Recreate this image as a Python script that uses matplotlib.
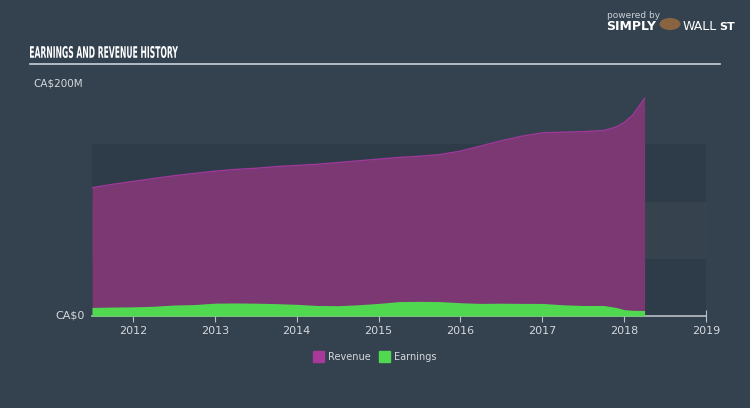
import numpy as np
import matplotlib
matplotlib.use("Agg")
import matplotlib.pyplot as plt
from matplotlib.textpath import TextPath
from matplotlib.font_manager import FontProperties
from matplotlib.patches import PathPatch, Rectangle, Circle
from matplotlib.transforms import Affine2D

# values in CA$ millions
dates = [2011.5, 2011.75, 2012.0, 2012.25, 2012.5, 2012.75, 2013.0, 2013.25, 2013.5,
         2013.75, 2014.0, 2014.25, 2014.5, 2014.75, 2015.0, 2015.25, 2015.5, 2015.75,
         2016.0, 2016.25, 2016.5, 2016.75, 2017.0, 2017.25, 2017.5, 2017.75, 2017.9,
         2018.0, 2018.1, 2018.25]
revenue = [112, 115, 117.5, 120, 122.5, 124.5, 126.5, 128, 129, 130.5, 131.5, 132.5,
           134, 135.5, 137, 138.5, 139.5, 141, 144, 148.5, 153, 157, 160, 160.5, 161,
           162, 165, 169, 175, 190]
earnings = [7.5, 7.8, 8.0, 8.5, 9.6, 10.0, 11.2, 11.4, 11.2, 10.8, 10.2, 9.2, 9.0,
            9.8, 11.0, 12.6, 12.8, 12.6, 11.6, 11.0, 11.2, 11.0, 11.0, 9.8, 9.2, 9.2,
            7.5, 5.6, 5.0, 4.8]

years = [2012, 2013, 2014, 2015, 2016, 2017, 2018, 2019]
ytick_vals = [0, 200]
ytick_labels = ["CA$0", "CA$200M"]

W, H = 750, 408
BG = "#34414f"
BAND = "#2e3b48"
TXT = "#d4d8dc"

fig = plt.figure(figsize=(W / 100, H / 100), dpi=100)
fig.patch.set_facecolor(BG)
ax = fig.add_axes([92 / W, (H - 316) / H, (706 - 92) / W, (316 - 87) / H])
ax.set_facecolor("none")

# banded background
ax.axhspan(0, 50, color=BAND, zorder=0, lw=0)
ax.axhspan(50, 100, color="#36434f", zorder=0, lw=0)
ax.axhspan(100, 150, color=BAND, zorder=0, lw=0)

ax.fill_between(dates, 0, revenue, color="#7b3873", lw=0, zorder=2)
ax.plot(dates, revenue, color="#a0389a", lw=1.0, zorder=3)
ax.fill_between(dates, 0, earnings, color="#50d850", lw=0, zorder=4)

ax.set_xlim(2011.5, 2019)
ax.set_ylim(0, 200)
ax.set_xticks(years)
ax.set_xticklabels([str(y) for y in years], color=TXT, fontsize=8)
ax.tick_params(axis="x", direction="inout", length=8, color="#b8c0c8", pad=3)
ax.set_yticks([])
for s in ["top", "left", "right"]:
    ax.spines[s].set_visible(False)
ax.spines["bottom"].set_color("#b8c0c8")
ax.spines["bottom"].set_linewidth(1.2)

# y labels placed like the reference
fig.text(55 / W, 1 - 315 / H, ytick_labels[0], color=TXT, fontsize=8, ha="left", va="center")
fig.text(33 / W, 1 - 84 / H, ytick_labels[1], color=TXT, fontsize=7.5, ha="left", va="center")

# title: condensed look, squeezed into the reference box (x 30-178, caps 46-58)
tp = TextPath((0, 0), "EARNINGS AND REVENUE HISTORY", size=10,
              prop=FontProperties(family="DejaVu Sans", weight="bold"))
ext = tp.get_extents()
sx = (178 - 30) / ext.width
sy = (58 - 46) / ext.height
tr = Affine2D().translate(-ext.x0, -ext.y0).scale(sx / W, sy / H) \
    .translate(30 / W, 1 - 58 / H) + fig.transFigure
fig.add_artist(PathPatch(tp, transform=tr, color="white", lw=0))
fig.add_artist(plt.Line2D([30 / W, 720 / W], [1 - 64 / H] * 2, color="#c8d0d8", lw=1.2))

# logo
fig.text(607 / W, 1 - 15 / H, "powered by", color="#c8d0d8", fontsize=6.5, ha="left", va="center")
fig.text(606 / W, 1 - 27 / H, "SIMPLY", color="white", fontsize=9, fontweight="bold",
         ha="left", va="center")
fig.text(683 / W, 1 - 27 / H, "WALL", color="white", fontsize=9, ha="left", va="center")
fig.text(719 / W, 1 - 27 / H, "ST", color="white", fontsize=8, fontweight="bold",
         ha="left", va="center")
fig.add_artist(Circle((670 / W, 1 - 24 / H), 0.013, transform=fig.transFigure, color="#8a6440"))

# legend
leg_items = [("Revenue", "#a8389a", 313), ("Earnings", "#50d850", 379)]
for name, col, x in leg_items:
    fig.add_artist(Rectangle((x / W, 1 - 362 / H), 11 / W, 11 / H,
                             transform=fig.transFigure, color=col))
    fig.text((x + 15) / W, 1 - 357 / H, name, color=TXT, fontsize=7, ha="left", va="center")

fig.savefig("out.png", dpi=100, facecolor=BG)
